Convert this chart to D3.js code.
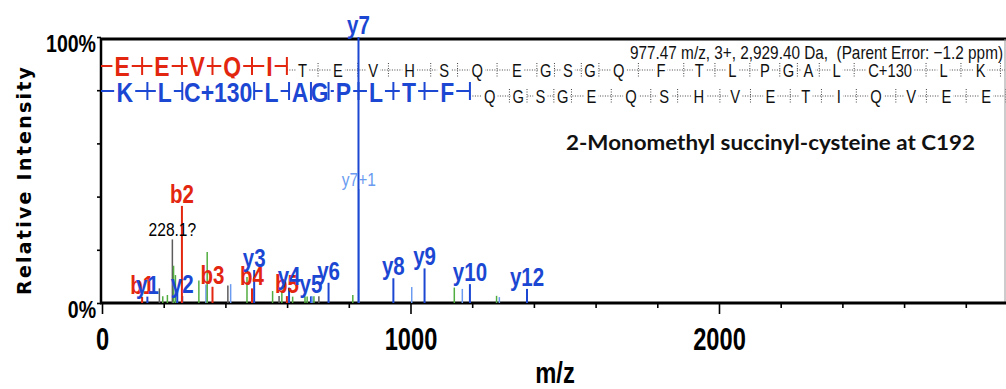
<!DOCTYPE html>
<html>
<head>
<meta charset="utf-8">
<script src="https://cdn.jsdelivr.net/npm/d3@7"></script>
<style>
  html, body { margin: 0; padding: 0; background: #fff; }
  svg { display: block; }
</style>
</head>
<body>
<svg id="chart" width="1006" height="389"></svg>
<script>
// ---- peptide and precursor ----
const peptide = ["E","E","V","Q","I","T","E","V","H","S","Q","E","G","S","G","Q","F","T","L","P","G","A","L","C+130","L","K"];
const residueMass = {
  G: 57.02146, A: 71.03711, S: 87.03203, P: 97.05276, V: 99.06841, T: 101.04768,
  C: 103.00919, L: 113.08406, I: 113.08406, Q: 128.05858, K: 128.09496, E: 129.04259,
  H: 137.05891, F: 147.06841, "C+130": 233.03619
};
const bCovered = 5;     // b1..b5 drawn as the matched red ladder
const yCovered = 10;    // y1..y10 drawn as the matched blue ladder
const precursorMz = 977.47;
const precursorCharge = 3;
const precursorMass = 2929.40;
const parentErrorPpm = -1.2;
const annotation = "2-Monomethyl succinyl-cysteine at C192";

// ---- spectrum peaks (m/z, relative intensity %, ion kind, label) ----
const peakMz = [
  130.05, 147.11, 186, 197, 212, 228.1, 232, 238, 244, 260.20, 259.09,
  314, 337, 341, 358.16, 408, 417, 470, 486.22, 493.23, 553, 574, 583,
  599.30, 606.32, 618, 658, 665, 677.35, 681, 687, 703, 734.38, 813,
  832.43, 831.43, 944.51, 1004, 1045.56, 1142, 1168, 1192.63, 1279, 1288, 1377.71
];
const peakIntensity = [
  2.3, 2.4, 5.5, 2.5, 3.0, 23.9, 14.0, 10.5, 4.9, 2.6, 36.5,
  8.5, 7.0, 19.2, 6.1, 6.6, 7.1, 9.8, 5.5, 12.4, 4.5, 2.6, 4.5,
  2.6, 5.8, 2.4, 2.4, 2.4, 2.5, 2.5, 2.5, 2.5, 7.6, 3.0,
  42.9, 100, 9.3, 6.0, 13.0, 5.8, 5.3, 7.1, 2.7, 2.2, 5.3
];
const peakKind = [
  "b", "y", "o", "g", "g", "o", "g", "g", "y", "y", "b",
  "g", "yl", "g", "b", "o", "yl", "g", "b", "y", "g", "o", "g",
  "b", "y", "g", "g", "g", "y", "yl", "g", "o", "y", "g",
  "yl", "y", "y", "yl", "y", "g", "yl", "y", "g", "yl", "y"
];
const peakLabel = [
  "b1", "y1", "", "", "", "228.1?", "", "", "", "y2", "b2",
  "", "", "", "b3", "", "", "", "b4", "y3", "", "", "",
  "b5", "y4", "", "", "", "y5", "", "", "", "y6", "",
  "y7+1", "y7", "y8", "", "y9", "", "", "y10", "", "", "y12"
];

const xTickStep = 200;
const xLabelStep = 1000;
const yTicks = [0, 20, 40, 60, 80, 100];

// ---- styles ----
const color = { b: "#e3260f", y: "#1b47d3", yl: "#6a9bf0", g: "#52ad40", o: "#5c5c5c" };
const SANS = "'Liberation Sans',Arial,sans-serif";
const SQUEEZE = 0.82;   // horizontal squeeze giving a condensed face

// place a text at (px, py) drawn with a horizontally condensed face
function narrow(sel, px, py, s = SQUEEZE) {
  return sel.attr("x", 0).attr("y", 0)
    .attr("transform", function (d, i) {
      const X = typeof px === "function" ? px(d, i) : px;
      const Y = typeof py === "function" ? py(d, i) : py;
      return `translate(${X},${Y}) scale(${s},1)`;
    })
    .style("font-family", SANS);
}

const svg = d3.select("#chart");
const x = d3.scaleLinear().domain([0, precursorMass]).range([102, 1005.7]);
const y = d3.scaleLinear().domain([0, 100]).range([303, 37]);

// ---- frame ----
svg.append("line").attr("x1", 100).attr("x2", 1006).attr("y1", 39).attr("y2", 39)
  .attr("stroke", "#000").attr("stroke-width", 3);
svg.append("line").attr("x1", 1005).attr("x2", 1005).attr("y1", 39).attr("y2", 303)
  .attr("stroke", "#999").attr("stroke-width", 1);

// ---- x axis ----
const xAxis = d3.axisBottom(x)
  .tickValues(d3.range(0, precursorMass, xTickStep))
  .tickSizeOuter(0)
  .tickFormat(d => d % xLabelStep === 0 ? d : "");
const gx = svg.append("g").attr("transform", `translate(0,${y(0)})`).call(xAxis);
gx.select(".domain").remove();
gx.selectAll(".tick line")
  .attr("y2", d => d % xLabelStep === 0 ? 11 : 5)
  .attr("stroke", "#000").attr("stroke-width", 1.6);
narrow(gx.selectAll(".tick text").attr("dy", null), 0, 47, 0.74)
  .style("font-size", "32px").style("font-weight", "bold").attr("fill", "#000");
svg.append("line").attr("x1", 100).attr("x2", 1006).attr("y1", y(0)).attr("y2", y(0))
  .attr("stroke", "#000").attr("stroke-width", 3);

// ---- y axis ----
const yAxis = d3.axisLeft(y).tickValues(yTicks).tickSize(4).tickSizeOuter(0)
  .tickFormat(d => (d === 0 || d === 100) ? d + "%" : "");
const gy = svg.append("g").attr("transform", "translate(101,0)").call(yAxis);
gy.select(".domain").remove();
gy.selectAll(".tick line").attr("stroke", "#000").attr("stroke-width", 1.6);
narrow(gy.selectAll(".tick text").attr("dy", null), -5, 14, 0.85)
  .style("font-size", "23px").style("font-weight", "bold").attr("fill", "#000");
svg.append("line").attr("x1", 101).attr("x2", 101).attr("y1", 38).attr("y2", 304)
  .attr("stroke", "#000").attr("stroke-width", 2.5);

// axis titles
svg.append("text")
  .attr("transform", "translate(31,181) rotate(-90)")
  .attr("text-anchor", "middle")
  .attr("textLength", 228).attr("lengthAdjust", "spacing")
  .style("font-family", "'DejaVu Sans',sans-serif").style("font-weight", "bold").style("font-size", "19px")
  .text("Relative Intensity");
narrow(svg.append("text"), 555, 383, 0.82)
  .attr("text-anchor", "middle")
  .style("font-weight", "bold").style("font-size", "29px")
  .text("m/z");

// ---- header and annotation ----
svg.append("text")
  .attr("x", 630).attr("y", 59)
  .attr("textLength", 373).attr("lengthAdjust", "spacingAndGlyphs")
  .style("white-space", "pre")
  .style("font-family", SANS).style("font-size", "19px").attr("fill", "#111")
  .text(`${precursorMz} m/z, ${precursorCharge}+, ${d3.format(",.2f")(precursorMass)} Da,  (Parent Error: ${d3.format(".1f")(parentErrorPpm)} ppm)`);
svg.append("text")
  .attr("x", 566).attr("y", 150)
  .attr("textLength", 409).attr("lengthAdjust", "spacingAndGlyphs")
  .style("font-family", "Lato,'Open Sans',sans-serif").style("font-weight", "bold").style("font-size", "20px")
  .attr("fill", "#111")
  .text(annotation);

// ---- fragment ladders ----
function ladder(residues, offset) {
  let cum = offset;
  return residues.map(r => (cum += residueMass[r]));
}
const rows = [
  { residues: peptide, ions: ladder(peptide, 1.00728), covered: bCovered, color: color.b,
    bigBase: 76, smallBase: 77, bigMid: 66, smallMid: 70 },
  { residues: peptide.slice().reverse(), ions: ladder(peptide.slice().reverse(), 19.01784), covered: yCovered, color: color.y,
    bigBase: 101.5, smallBase: 102.5, bigMid: 91, smallMid: 96 }
];

rows.forEach(row => {
  const g = svg.append("g");
  const edge = x(row.ions[row.covered - 1]);
  g.append("line").attr("x1", 101).attr("x2", edge).attr("y1", row.bigMid).attr("y2", row.bigMid)
    .attr("stroke", row.color).attr("stroke-width", 2);
  g.append("line").attr("x1", edge).attr("x2", 1005).attr("y1", row.smallMid).attr("y2", row.smallMid)
    .attr("stroke", "#444").attr("stroke-width", 1).attr("stroke-dasharray", "1,1.5");

  const letters = row.residues.map((r, i) => {
    const left = i === 0 ? x(0) : x(row.ions[i - 1]);
    const right = x(row.ions[i]);
    return { r, i, cx: (left + right) / 2, big: i < row.covered };
  });
  const bgLayer = g.append("g");
  const texts = narrow(g.append("g").selectAll("text").data(letters).join("text"),
      d => d.cx, d => d.big ? row.bigBase : row.smallBase)
    .attr("text-anchor", "middle")
    .style("font-size", d => d.big ? "28px" : "18px")
    .style("font-weight", d => d.big ? "bold" : "normal")
    .attr("fill", d => d.big ? row.color : "#111")
    .text(d => d.r);
  texts.each(function (d) {
    const b = this.getBBox();
    const w = b.width * SQUEEZE;
    const baseY = d.big ? row.bigBase : row.smallBase;
    bgLayer.append("rect").attr("x", d.cx - w / 2 - 2).attr("y", baseY + b.y + 2)
      .attr("width", w + 4).attr("height", b.height - 4).attr("fill", "#fff");
  });

  g.append("g").selectAll("line").data(row.ions.map((m, i) => ({ m, i }))).join("line")
    .attr("x1", d => x(d.m)).attr("x2", d => x(d.m))
    .attr("y1", d => d.i < row.covered ? row.bigMid - 9 : row.smallMid - 7)
    .attr("y2", d => d.i < row.covered ? row.bigMid + 9 : row.smallMid + 7)
    .attr("stroke", d => d.i < row.covered ? row.color : "#444")
    .attr("stroke-width", d => d.i < row.covered ? 2 : 1)
    .attr("stroke-dasharray", d => d.i < row.covered ? null : "1,1.5");
});

// ---- peaks ----
const peaks = peakMz.map((mz, i) => ({ mz, pct: peakIntensity[i], kind: peakKind[i], label: peakLabel[i] }));
svg.append("g").selectAll("line").data(peaks).join("line")
  .attr("x1", d => x(d.mz)).attr("x2", d => x(d.mz))
  .attr("y1", y(0)).attr("y2", d => y(d.pct))
  .attr("stroke", d => color[d.kind])
  .attr("stroke-width", d => (d.kind === "b" || d.kind === "y") ? 2 : 1.5);

const ionLabel = d => /^[by]\d+$/.test(d.label);
narrow(svg.append("g").selectAll("text").data(peaks.filter(d => d.label)).join("text"),
    d => x(d.mz), d => y(d.pct) - 3)
  .attr("text-anchor", "middle")
  .style("font-size", d => ionLabel(d) ? "25px" : "19px")
  .style("font-weight", d => ionLabel(d) ? "bold" : "normal")
  .attr("fill", d => d.kind === "o" ? "#000" : color[d.kind])
  .text(d => d.label);
</script>
</body>
</html>
